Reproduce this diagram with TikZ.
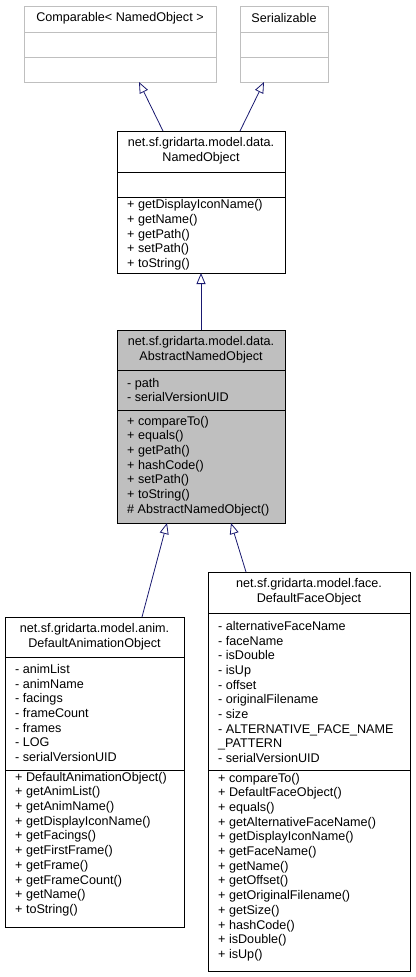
\documentclass[tikz,border=0pt]{standalone}
\usepackage{fontspec}
\setmainfont{Liberation Sans}
\usetikzlibrary{arrows.meta}
\definecolor{edge}{HTML}{191970}
\definecolor{grayfill}{HTML}{BFBFBF}
\begin{document}
\begin{tikzpicture}[x=1pt,y=-1pt,
  box/.style={draw=black,line width=0.8pt},
  pale/.style={draw=grayfill,line width=1pt},
  txt/.style={inner sep=0pt,align=left,font=\fontsize{12.6}{14.7}\selectfont,anchor=west},
  ttl/.style={inner sep=0pt,align=center,font=\fontsize{12.6}{14.7}\selectfont},
  inh/.style={draw=edge,line width=0.8pt,-{Triangle[open,length=11pt,width=9pt]}}]
\useasboundingbox (0,0) rectangle (415,977);
% Comparable
\draw[pale] (24,6) rectangle (216,82); \draw[pale] (24,32)--(216,32) (24,57)--(216,57);
\node[ttl] (cmp) at (120,18) {Comparable< NamedObject >};
% Serializable
\draw[pale] (240,6) rectangle (328,82); \draw[pale] (240,32)--(328,32) (240,57)--(328,57);
\node[ttl] (ser) at (284,18) {Serializable};
% NamedObject
\draw[box] (117,131) rectangle (285,273); \draw[box] (117,172)--(285,172) (117,197)--(285,197);
\node[ttl] (no) at (201,151) {net.sf.gridarta.model.data.\\NamedObject};
\node[txt] (nom) at (127,235) {+ getDisplayIconName()\\+ getName()\\+ getPath()\\+ setPath()\\+ toString()};
% AbstractNamedObject
\draw[box,fill=grayfill] (117,330) rectangle (285,523); \draw[box] (117,370)--(285,370) (117,410)--(285,410);
\node[ttl] (ano) at (201,350) {net.sf.gridarta.model.data.\\AbstractNamedObject};
\node[txt] (anoa) at (127,390) {- path\\- serialVersionUID};
\node[txt] (anom) at (127,466) {+ compareTo()\\+ equals()\\+ getPath()\\+ hashCode()\\+ setPath()\\+ toString()\\\# AbstractNamedObject()};
% DefaultAnimationObject
\draw[box] (5,617) rectangle (184,927); \draw[box] (5,657)--(184,657) (5,770)--(184,770);
\node[ttl] (dao) at (94.5,637) {net.sf.gridarta.model.anim.\\DefaultAnimationObject};
\node[txt] (daoa) at (15,713) {- animList\\- animName\\- facings\\- frameCount\\- frames\\- LOG\\- serialVersionUID};
\node[txt] (daom) at (15,844) {+ DefaultAnimationObject()\\+ getAnimList()\\+ getAnimName()\\+ getDisplayIconName()\\+ getFacings()\\+ getFirstFrame()\\+ getFrame()\\+ getFrameCount()\\+ getName()\\+ toString()};
% DefaultFaceObject
\draw[box] (208,572) rectangle (410,971); \draw[box] (208,613)--(410,613) (208,770)--(410,770);
\node[ttl] (dfo) at (309,592) {net.sf.gridarta.model.face.\\DefaultFaceObject};
\node[txt] (dfoa) at (218,692) {- alternativeFaceName\\- faceName\\- isDouble\\- isUp\\- offset\\- originalFilename\\- size\\- ALTERNATIVE\_FACE\_NAME\\\_PATTERN\\- serialVersionUID};
\node[txt] (dfom) at (218,867) {+ compareTo()\\+ DefaultFaceObject()\\+ equals()\\+ getAlternativeFaceName()\\+ getDisplayIconName()\\+ getFaceName()\\+ getName()\\+ getOffset()\\+ getOriginalFilename()\\+ getSize()\\+ hashCode()\\+ isDouble()\\+ isUp()};
% connectors
\coordinate (a1) at (163,131); \coordinate (b1) at (139,82);
\coordinate (a2) at (240,131); \coordinate (b2) at (264,82);
\coordinate (a3) at (201,330); \coordinate (b3) at (201,273);
\coordinate (a4) at (142,617); \coordinate (b4) at (167,523);
\coordinate (a5) at (246,572); \coordinate (b5) at (231,523);
\draw[inh] (a1)--(b1); \draw[inh] (a2)--(b2); \draw[inh] (a3)--(b3);
\draw[inh] (a4)--(b4); \draw[inh] (a5)--(b5);
\end{tikzpicture}
\end{document}
